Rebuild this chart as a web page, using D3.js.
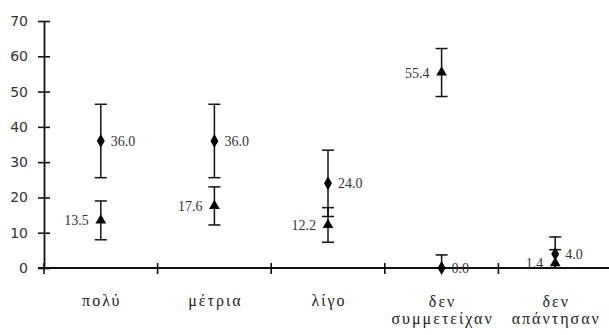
<!DOCTYPE html>
<html>
<head>
<meta charset="utf-8">
<script src="https://cdn.jsdelivr.net/npm/d3@7"></script>
<style>
  html, body { margin: 0; padding: 0; background: #fff; }
  svg { display: block; }
</style>
</head>
<body>
<svg id="chart" width="609" height="335"></svg>
<script>
// Response categories (multi-line labels)
const categories = ["πολύ", "μέτρια", "λίγο", "δεν συμμετείχαν", "δεν απάντησαν"];
const categoryLines = [["πολύ"], ["μέτρια"], ["λίγο"], ["δεν", "συμμετείχαν"], ["δεν", "απάντησαν"]];

// Series shown with diamond markers
const diamondValues = [36.0, 36.0, 24.0, 0.0, 4.0];
const diamondErrors = [10.4, 10.4, 9.4, 3.7, 4.8];

// Series shown with triangle markers
const triangleValues = [13.5, 17.6, 12.2, 55.4, 1.4];
const triangleErrors = [5.5, 5.4, 4.9, 6.8, 3.8];

const yTicks = [0, 10, 20, 30, 40, 50, 60, 70];

const svg = d3.select("#chart");
const x0 = 44, x1 = 612, yTop = 21, yBottom = 268;

const x = d3.scaleBand().domain(categories).range([x0, x1]);
const y = d3.scaleLinear().domain([0, 70]).range([yBottom, yTop]);
const cx = c => x(c) + x.bandwidth() / 2;

// Clip error bars to the plotting area (nothing below zero)
svg.append("defs").append("clipPath").attr("id", "plotClip")
  .append("rect").attr("x", 0).attr("y", yTop - 5).attr("width", 609).attr("height", yBottom - yTop + 5);

// Y axis
const yAxis = svg.append("g").attr("transform", `translate(${x0},0)`)
  .call(d3.axisLeft(y).tickValues(yTicks).tickSizeInner(6).tickSizeOuter(0).tickPadding(10));
yAxis.select(".domain").attr("stroke", "#111").attr("stroke-width", 1.8);
yAxis.selectAll(".tick line").attr("x1", -6).attr("x2", 6).attr("stroke", "#111").attr("stroke-width", 1.6);
yAxis.selectAll(".tick text")
  .attr("font-family", "DejaVu Sans, sans-serif").attr("font-size", 14).attr("fill", "#333");

// X axis with ticks at category boundaries
const xAxis = svg.append("g").attr("transform", `translate(0,${yBottom})`);
xAxis.append("line").attr("x1", x0 - 6).attr("x2", 609).attr("y1", 0).attr("y2", 0)
  .attr("stroke", "#111").attr("stroke-width", 1.8);
xAxis.selectAll("line.bound").data(categories).enter().append("line")
  .attr("class", "bound")
  .attr("x1", d => x(d)).attr("x2", d => x(d)).attr("y1", -5).attr("y2", 6)
  .attr("stroke", "#111").attr("stroke-width", 1.6);

// Category labels
const labels = svg.append("g");
categories.forEach((c, i) => {
  const lines = categoryLines[i];
  const t = labels.append("text")
    .attr("x", cx(c))
    .attr("text-anchor", "middle")
    .style("font-family", "'Liberation Serif', 'DejaVu Serif', serif")
    .attr("font-size", 16)
    .attr("letter-spacing", 2)
    .attr("fill", "#222");
  lines.forEach((ln, j) => {
    t.append("tspan").attr("x", cx(c) + 1)
      .attr("y", lines.length === 1 ? 306 : 307 + j * 17)
      .text(ln);
  });
});

function drawSeries(values, errors, symbolType, size, labelSide) {
  const g = svg.append("g");
  const eb = g.append("g").attr("clip-path", "url(#plotClip)");
  categories.forEach((c, i) => {
    const v = values[i], e = errors[i];
    const px = cx(c);
    const top = y(v + e), bot = y(v - e);
    eb.append("line").attr("x1", px).attr("x2", px).attr("y1", top).attr("y2", bot)
      .attr("stroke", "#111").attr("stroke-width", 1.5);
    [top, bot].forEach(yy => {
      eb.append("line").attr("x1", px - 6).attr("x2", px + 6).attr("y1", yy).attr("y2", yy)
        .attr("stroke", "#111").attr("stroke-width", 1.5);
    });
    g.append("path")
      .attr("d", d3.symbol().type(symbolType).size(size)())
      .attr("transform", `translate(${px},${y(v)})`)
      .attr("fill", "#000");
    g.append("text")
      .attr("x", labelSide > 0 ? px + 10 : px - 12)
      .attr("y", y(v) + 5)
      .attr("text-anchor", labelSide > 0 ? "start" : "end")
      .attr("font-family", "Liberation Serif, serif")
      .attr("font-size", 14)
      .attr("fill", "#333")
      .text(v.toFixed(1));
  });
}

drawSeries(diamondValues, diamondErrors, d3.symbolDiamond, 55, 1);
drawSeries(triangleValues, triangleErrors, d3.symbolTriangle, 50, -1);
</script>
</body>
</html>
